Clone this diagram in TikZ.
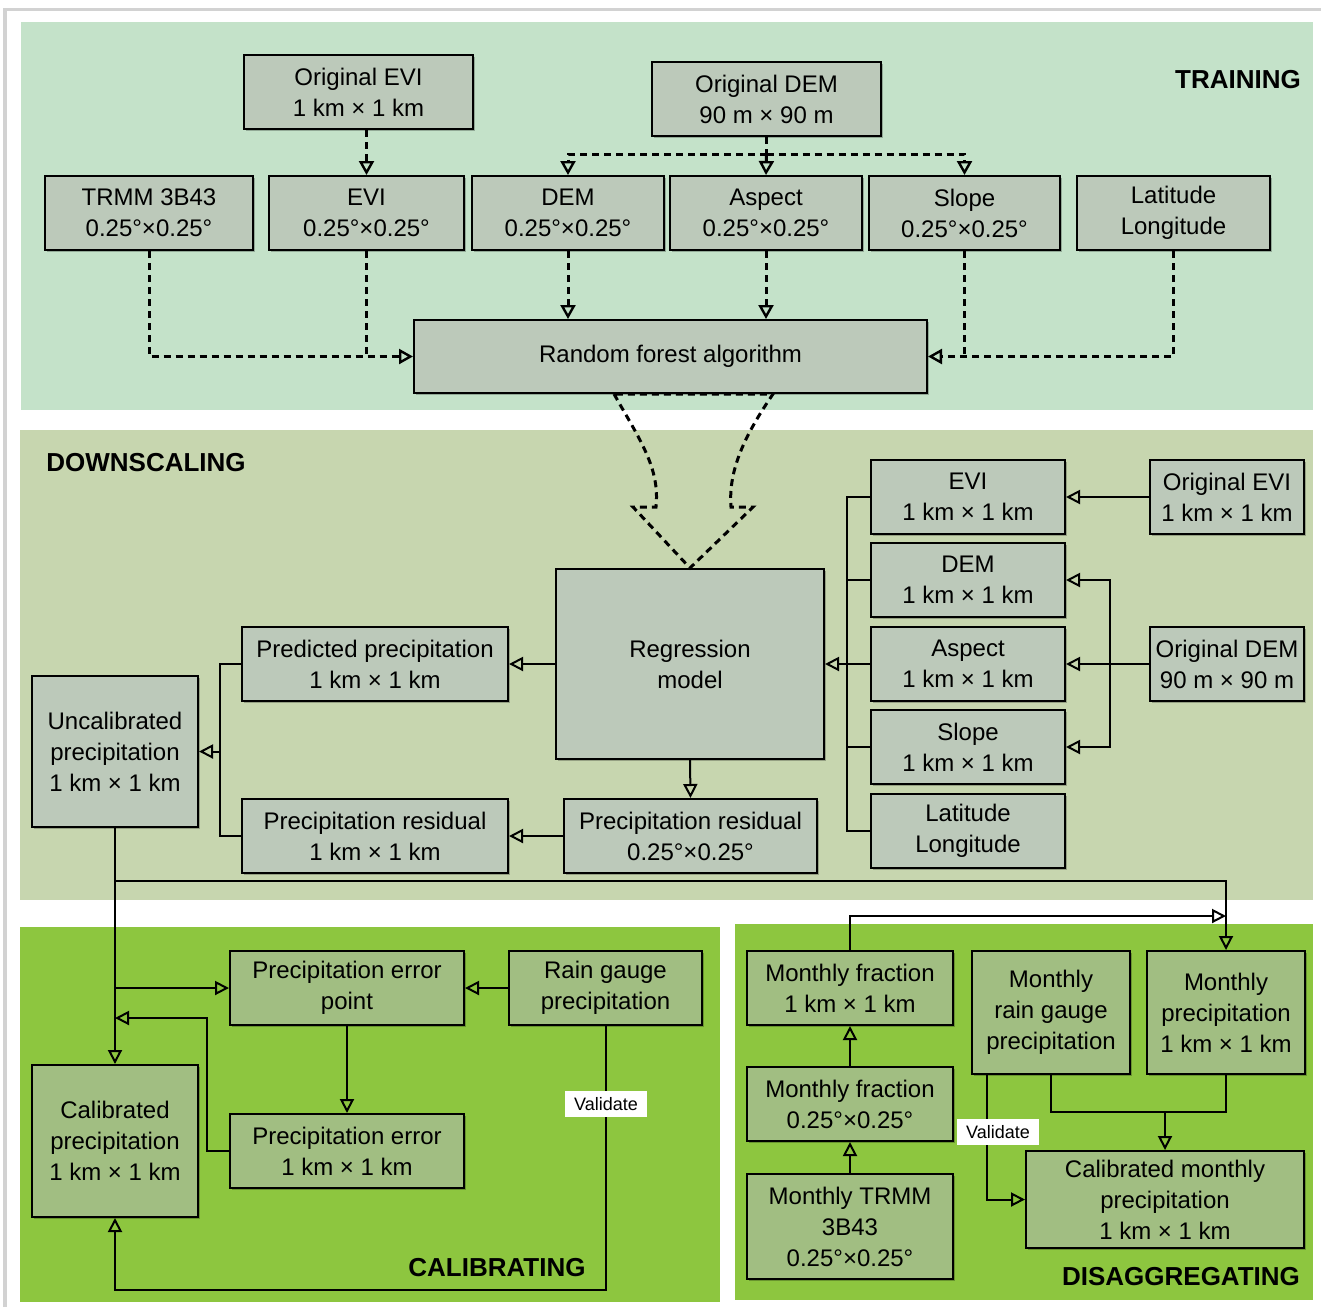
\documentclass[tikz,border=0pt]{standalone}
\usepackage{fontspec}
\setmainfont{Liberation Sans}
\usetikzlibrary{arrows.meta,shadows}
\definecolor{trainbg}{HTML}{C4E2C9}
\definecolor{downbg}{HTML}{C7D6AF}
\definecolor{calbg}{HTML}{8DC63F}
\definecolor{boxA}{HTML}{BCC9BA}
\definecolor{boxB}{HTML}{A1BE82}
\definecolor{framegray}{HTML}{D2D2D2}
\tikzset{
 box/.style={draw=black, line width=1pt, inner sep=0pt, align=center,
   font=\fontsize{12}{15.5}\selectfont,
   drop shadow={shadow xshift=1pt,shadow yshift=-1pt,opacity=0.25,fill=black}},
 conn/.style={line width=1pt, draw=black},
 arr/.style={-{Triangle[open,length=7pt,width=7pt]}},
 darr/.style={-{Triangle[open,length=7pt,width=7.5pt,line width=1.2pt]}},
 dsh/.style={line width=1.5pt, dash pattern=on 3.5pt off 2.5pt},
 plabel/.style={font=\fontsize{13}{15}\selectfont\bfseries, inner sep=0pt},
 vlabel/.style={fill=white, font=\fontsize{9}{11}\selectfont, inner sep=0pt, minimum width=41pt, minimum height=13pt}
}
\newcommand\mkbox[7]{\node[box,fill=#6,minimum width={(#4-#2)*0.5pt},minimum height={(#5-#3)*0.5pt}] (#1) at ({(#2+#4)/2},{(#3+#5)/2}) {#7};}
\begin{document}
\begin{tikzpicture}[x=0.5pt,y=-0.5pt]
\useasboundingbox (0,0) rectangle (1321,1307);
% frame and panels
\draw[framegray,line width=2pt] (5,1307) -- (5,8);
\draw[framegray,line width=1.5pt] (4,9) -- (1321,9);
\fill[trainbg] (21,22) rectangle (1313,410);
\fill[downbg] (20,430) rectangle (1313,900);
\fill[calbg] (20,927) rectangle (720,1302);
\fill[calbg] (735,924) rectangle (1313,1300);
% labels
\node[plabel] (lt) at (1238,80) {TRAINING};
\node[plabel] (ld) at (146,463) {DOWNSCALING};
\node[plabel] (lc) at (497,1268) {CALIBRATING};
\node[plabel] (lg) at (1181,1277) {DISAGGREGATING};
% training boxes
\mkbox{oevi}{244}{55}{473}{129}{boxA}{Original EVI\\1 km × 1 km}
\mkbox{odem}{652}{62}{881}{136}{boxA}{Original DEM\\90 m × 90 m}
\mkbox{trmm}{45}{176}{253}{250}{boxA}{TRMM 3B43\\0.25°×0.25°}
\mkbox{evi}{269}{176}{464}{250}{boxA}{EVI\\0.25°×0.25°}
\mkbox{dem}{472}{176}{664}{250}{boxA}{DEM\\0.25°×0.25°}
\mkbox{asp}{670}{176}{862}{250}{boxA}{Aspect\\0.25°×0.25°}
\mkbox{slp}{869}{176}{1060}{250}{boxA}{Slope\\0.25°×0.25°}
\mkbox{ll}{1077}{176}{1270}{250}{boxA}{Latitude\\Longitude}
\mkbox{rf}{414}{320}{927}{393}{boxA}{Random forest algorithm}
% downscaling boxes
\mkbox{rm}{556}{569}{824}{759}{boxA}{Regression\\model}
\mkbox{pp}{242}{627}{508}{701}{boxA}{Predicted precipitation\\1 km × 1 km}
\mkbox{pr1}{242}{799}{508}{873}{boxA}{Precipitation residual\\1 km × 1 km}
\mkbox{pr25}{564}{799}{817}{873}{boxA}{Precipitation residual\\0.25°×0.25°}
\mkbox{unc}{32}{676}{198}{827}{boxA}{Uncalibrated\\precipitation\\1 km × 1 km}
\mkbox{evi2}{871}{460}{1065}{534}{boxA}{EVI\\1 km × 1 km}
\mkbox{dem2}{871}{543}{1065}{617}{boxA}{DEM\\1 km × 1 km}
\mkbox{asp2}{871}{627}{1065}{701}{boxA}{Aspect\\1 km × 1 km}
\mkbox{slp2}{871}{710}{1065}{784}{boxA}{Slope\\1 km × 1 km}
\mkbox{ll2}{871}{794}{1065}{868}{boxA}{Latitude\\Longitude}
\mkbox{oevi2}{1150}{460}{1304}{534}{boxA}{Original EVI\\1 km × 1 km}
\mkbox{odem2}{1150}{627}{1304}{701}{boxA}{Original DEM\\90 m × 90 m}
% calibrating boxes
\mkbox{pep}{230}{951}{464}{1025}{boxB}{Precipitation error\\point}
\mkbox{rg}{509}{951}{702}{1025}{boxB}{Rain gauge\\precipitation}
\mkbox{pe}{230}{1114}{464}{1188}{boxB}{Precipitation error\\1 km × 1 km}
\mkbox{cal}{32}{1065}{198}{1217}{boxB}{Calibrated\\precipitation\\1 km × 1 km}
% disaggregating boxes
\mkbox{mf1}{747}{951}{953}{1025}{boxB}{Monthly fraction\\1 km × 1 km}
\mkbox{mf25}{747}{1067}{953}{1141}{boxB}{Monthly fraction\\0.25°×0.25°}
\mkbox{mt}{747}{1174}{953}{1279}{boxB}{Monthly TRMM\\3B43\\0.25°×0.25°}
\mkbox{mrg}{972}{951}{1130}{1074}{boxB}{Monthly\\rain gauge\\precipitation}
\mkbox{mp}{1147}{951}{1305}{1074}{boxB}{Monthly\\precipitation\\1 km × 1 km}
\mkbox{cmp}{1026}{1151}{1304}{1248}{boxB}{Calibrated monthly\\precipitation\\1 km × 1 km}
% training connectors
\coordinate (tb) at (766.5,154);
\draw[dsh] (odem.south) -- (tb);
\draw[dsh,darr] (tb) -| (dem.north);
\draw[dsh,darr] (tb) -| (slp.north);
\draw[dsh,darr] (tb) -- (asp.north);
\draw[dsh,darr] (evi.north |- oevi.south) -- (evi.north);
\draw[dsh,darr] (trmm.south) |- (rf.west);
\draw[dsh] (evi.south) -- (evi.south |- rf.west);
\draw[dsh,darr] (dem.south) -- (dem.south |- rf.north);
\draw[dsh,darr] (asp.south) -- (asp.south |- rf.north);
\draw[dsh,darr] (ll.south) |- (rf.east);
\draw[dsh] (slp.south) -- (slp.south |- rf.east);
% big dashed block arrow
\coordinate (ba) at (614,394);
\coordinate (bb) at (773,394);
\draw[dsh] (ba) .. controls (640,440) and (660,468) .. (656,507) -- (633,507)
  -- (rm.north) -- (753,507) -- (731,507) .. controls (728,470) and (745,435) .. (bb) -- cycle;
% downscaling connectors
\draw[conn,arr] (oevi2.west) -- (evi2.east);
\draw[conn,arr] (odem2.west) -- (asp2.east);
\coordinate (rbus) at (1110,664);
\draw[conn,arr] (rbus) |- (dem2.east);
\draw[conn,arr] (rbus) |- (slp2.east);
\coordinate (lbt) at (847,497);
\coordinate (lbb) at (847,831);
\draw[conn] (evi2.west) -- (lbt) -- (lbb) -- (ll2.west);
\draw[conn] (dem2.west) -- (dem2.west -| lbt);
\draw[conn] (slp2.west) -- (slp2.west -| lbt);
\draw[conn,arr] (asp2.west) -- (rm.east);
\draw[conn,arr] (rm.west) -- (pp.east);
\draw[conn,arr] (rm.south) -- (pr25.north);
\draw[conn,arr] (pr25.west) -- (pr1.east);
\coordinate (ubus) at (220,751.5);
\draw[conn] (pp.west) -| (ubus) |- (pr1.west);
\draw[conn,arr] (ubus) -- (unc.east);
\draw[conn,arr] (unc.south) -- (cal.north);
\coordinate (j1) at (115,881);
\coordinate (y916) at (0,916);
\draw[conn,arr] (j1) -| (mp.north);
% calibrating connectors
\coordinate (j2) at (115,988);
\draw[conn,arr] (j2) -- (pep.west);
\draw[conn,arr] (rg.west) -- (pep.east);
\draw[conn,arr] (pep.south) -- (pe.north);
\coordinate (j3) at (115,1018);
\draw[conn,arr] (pe.west) -- ++(-22,0) |- (j3);
\coordinate (rgb) at (605.5,1290);
\draw[conn,arr] (rg.south) -- (rgb) -| (cal.south);
\node[vlabel] (v1) at (606,1104) {Validate};
% disaggregating connectors
\draw[conn,arr] (mt.north) -- (mf25.south);
\draw[conn,arr] (mf25.north) -- (mf1.south);
\draw[conn,arr] (mf1.north) |- (mp.north |- y916);
\coordinate (y1112) at (0,1112);
\coordinate (j4) at (1165,1112);
\draw[conn] (mrg.south) |- (mp.south |- y1112) -- (mp.south);
\draw[conn,arr] (j4) -- (cmp.north);
\coordinate (j5) at (987,1074);
\draw[conn,arr] (j5) |- (cmp.west);
\node[vlabel] (v2) at (998,1132) {Validate};
\end{tikzpicture}
\end{document}
